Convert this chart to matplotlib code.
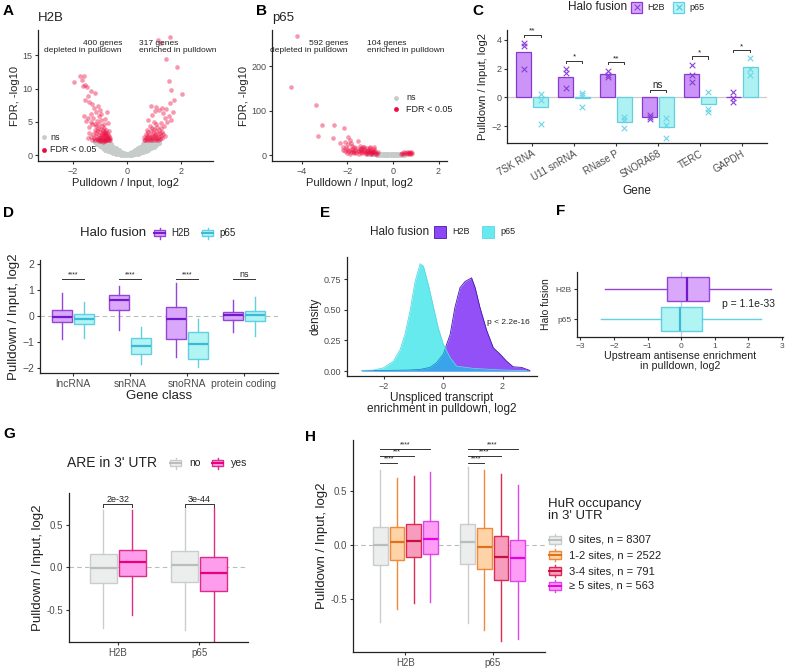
import matplotlib.pyplot as plt
import matplotlib.patches as mpatches

plt.rcParams['font.family'] = ['Liberation Sans', 'DejaVu Sans']

# ---------------- data ----------------
# A: volcano H2B (not significant cloud, significant points)
a_ns_x = [-1.2, -1.2, -1.1, -1.1, -1.1, -1.0, -1.0, -1.0, -1.0, -0.9, -0.9, -0.9, -0.9, -0.9,
          -0.8, -0.8, -0.8, -0.8, -0.8, -0.7, -0.7, -0.7, -0.7, -0.7, -0.6, -0.6, -0.6, -0.6, -0.6,
          -0.5, -0.5, -0.5, -0.5, -0.4, -0.4, -0.4, -0.4, -0.3, -0.3, -0.3, -0.3, -0.2, -0.2, -0.2,
          -0.1, -0.1, -0.1, 0.0, 0.0, 0.1, 0.1, 0.1, 0.2, 0.2, 0.2, 0.3, 0.3, 0.3, 0.3,
          0.4, 0.4, 0.4, 0.4, 0.5, 0.5, 0.5, 0.5, 0.6, 0.6, 0.6, 0.6, 0.6, 0.7, 0.7, 0.7, 0.7, 0.7,
          0.8, 0.8, 0.8, 0.8, 0.8, 0.9, 0.9, 0.9, 0.9, 0.9, 1.0, 1.0, 1.0, 1.0, 1.1, 1.1, 1.1, 1.2, 1.2]
a_ns_y = [2.0, 2.2, 1.6, 1.9, 2.2, 1.3, 1.6, 1.9, 2.2, 1.0, 1.3, 1.6, 1.9, 2.2,
          0.8, 1.1, 1.4, 1.7, 2.0, 0.6, 0.9, 1.2, 1.5, 1.8, 0.4, 0.7, 1.0, 1.3, 1.6,
          0.3, 0.6, 0.9, 1.2, 0.2, 0.5, 0.8, 1.0, 0.1, 0.35, 0.6, 0.8, 0.05, 0.25, 0.45,
          0.02, 0.15, 0.3, 0.0, 0.12, 0.02, 0.15, 0.3, 0.05, 0.25, 0.45, 0.1, 0.35, 0.6, 0.8,
          0.2, 0.5, 0.8, 1.0, 0.3, 0.6, 0.9, 1.2, 0.4, 0.7, 1.0, 1.3, 1.6, 0.6, 0.9, 1.2, 1.5, 1.8,
          0.8, 1.1, 1.4, 1.7, 2.0, 1.0, 1.3, 1.6, 1.9, 2.2, 1.2, 1.5, 1.8, 2.1, 1.5, 1.8, 2.1, 1.8, 2.1]
a_sig_x = [-1.28, -1.25, -1.22, -1.20, -1.18, -1.16, -1.15, -1.13, -1.12, -1.10, -1.08, -1.07,
           -1.05, -1.04, -1.02, -1.00, -0.99, -0.98, -0.97, -0.95, -0.94, -0.93, -0.92, -0.90,
           -0.89, -0.88, -0.87, -0.86, -0.85, -0.84, -0.83, -0.82, -0.81, -0.80, -0.79, -0.78,
           -0.77, -0.76, -0.75, -0.74, -0.72, -0.71, -0.70, -0.68, -0.67, -0.65, -0.63, -0.61,
           -1.35, -1.40, -1.32, -1.45, -1.10, -0.95, -1.20, -0.85, -1.05, -0.90, -1.00, -0.80,
           -1.95, -1.75, -1.60, -1.68, -1.55, -1.48, -1.62, -1.35, -1.20, -1.45, -1.55, -1.40,
           -1.28, -1.22, -1.08, -1.00, -1.15, -0.95, -1.60, -1.45, -1.35, -0.72, -1.05, -1.25,
           -0.80, -1.50, -1.30, -1.40, -0.70, -0.65,
           0.62, 0.65, 0.68, 0.70, 0.72, 0.74, 0.76, 0.78, 0.80, 0.82, 0.84, 0.86, 0.88, 0.90,
           0.92, 0.94, 0.96, 0.98, 1.00, 1.02, 1.04, 1.05, 1.07, 1.08, 1.10, 1.12, 1.13, 1.15,
           1.17, 1.18, 1.20, 1.22, 1.24, 1.26, 1.28, 1.30, 1.32, 1.35, 1.38, 1.40, 0.95, 1.10,
           0.85, 1.25, 0.75,
           1.60, 1.15, 1.25, 1.45, 1.85, 1.55, 2.05, 1.65, 1.75, 1.60, 1.30, 1.10, 1.05, 1.35,
           1.20, 0.95, 1.55, 1.65, 1.40, 0.80, 1.00, 1.50, 0.90, 1.70, 1.45]
a_sig_y = [2.3, 3.1, 2.6, 3.8, 2.2, 4.4, 3.3, 2.8, 2.4, 3.6, 4.1, 2.2,
           3.0, 2.6, 4.7, 3.4, 2.3, 3.9, 2.8, 2.1, 3.2, 4.3, 2.5, 3.7,
           2.9, 2.2, 3.4, 2.6, 4.0, 3.1, 2.3, 2.8, 3.5, 2.1, 2.5, 3.0,
           3.8, 2.3, 2.7, 3.3, 2.2, 2.6, 3.0, 2.4, 2.9, 2.2, 2.6, 2.3,
           2.7, 3.3, 4.9, 2.5, 5.1, 5.3, 4.7, 4.6, 2.1, 2.0, 2.5, 3.3,
           11.0, 11.9, 11.9, 11.3, 10.6, 10.2, 10.4, 9.7, 9.4, 8.8, 8.2, 8.0,
           7.6, 7.1, 7.3, 6.8, 6.5, 6.2, 5.8, 5.5, 6.1, 6.4, 5.9, 5.6,
           5.4, 5.1, 4.6, 4.2, 4.8, 3.6,
           2.3, 2.7, 2.2, 3.1, 2.5, 2.9, 2.2, 3.4, 2.6, 2.3, 3.0, 2.7, 3.6, 2.2,
           2.9, 2.5, 3.3, 2.3, 2.8, 3.9, 2.6, 3.2, 2.2, 3.6, 2.9, 2.5, 4.2, 3.1,
           2.3, 3.7, 2.7, 3.3, 2.4, 4.0, 2.9, 3.5, 2.6, 3.1, 4.4, 2.8, 4.0, 4.6,
           4.3, 4.8, 3.8,
           17.8, 17.3, 16.8, 14.5, 13.3, 11.2, 9.2, 9.8, 8.3, 7.8, 7.0, 7.2, 6.6, 6.3,
           6.7, 6.0, 5.9, 5.3, 5.5, 5.2, 5.0, 4.9, 7.4, 6.5, 6.9]

# B: volcano p65
b_ns_x = [-1.1, -1.0, -0.9, -0.8, -0.7, -0.6, -0.5, -0.4, -0.3, -0.2, -0.1, 0.0, 0.1, 0.2, 0.3, 0.4, 0.5,
          -1.0, -0.9, -0.8, -0.7, -0.6, -0.5, -0.4, -0.3, -0.2, -0.1, 0.0, 0.1, 0.2, 0.3]
b_ns_y = [2, 2, 2, 2, 1, 1, 1, 1, 0.5, 0.5, 0.5, 0.3, 0.5, 0.5, 1, 1, 1,
          4, 4, 3, 3, 3, 2.5, 2.5, 2, 2, 1.5, 1.5, 1.5, 2, 2]
b_sig_x = [-2.2, -2.1, -2.0, -1.95, -1.9, -1.85, -1.8, -1.75, -1.7, -1.65, -1.6, -1.55, -1.5, -1.45,
           -1.4, -1.38, -1.35, -1.3, -1.28, -1.25, -1.2, -1.18, -1.15, -1.12, -1.1, -1.08, -1.05,
           -1.02, -1.0, -0.98, -0.95, -0.92, -0.9, -0.88, -0.85, -0.83, -0.8, -0.78, -0.75, -1.6,
           -1.3, -1.7, -2.0, -1.9, -1.5, -1.2, -0.95, -0.7, -0.65, -1.4,
           0.35, 0.4, 0.45, 0.5, 0.55, 0.6, 0.62, 0.65, 0.7, 0.72, 0.75, 0.78, 0.8, 0.82,
           -4.19, -4.48, -3.38, -3.11, -2.58, -3.28, -2.64, -2.15, -1.99, -1.89, -1.55, -2.06,
           -2.3, -1.95, -1.8, -2.1, -1.7, -1.85, -2.2, -1.45, -1.25, -1.0, -0.85]
b_sig_y = [12, 9, 14, 8, 11, 6, 13, 9, 7, 12, 5, 10, 8, 14,
           6, 11, 4, 9, 13, 7, 5, 10, 16, 8, 4, 12, 6,
           9, 15, 5, 11, 7, 4, 9, 13, 6, 3, 8, 5, 16,
           17, 4, 5, 3, 3, 2, 2, 3, 6, 15,
           3, 5, 2, 6, 4, 7, 3, 5, 6, 2, 4, 7, 3, 5,
           269, 154, 113, 68, 68, 43, 38, 60, 41, 34, 32, 19,
           28, 24, 21, 30, 19, 27, 17, 20, 19, 18, 19]

# C: RT-qPCR bars with replicates
c_genes = ['7SK RNA', 'U11 snRNA', 'RNase P', 'SNORA68', 'TERC', 'GAPDH']
c_h2b_bar = [3.14, 1.45, 1.63, -1.35, 1.60, 0.01]
c_p65_bar = [-0.64, -0.05, -1.75, -2.08, -0.47, 2.09]
c_h2b_reps = [[3.8, 3.55, 1.95], [2.0, 1.7, 0.65], [1.86, 1.58, 1.45],
              [-1.2, -1.35, -1.48], [2.25, 1.55, 1.05], [0.4, -0.07, -0.3]]
c_p65_reps = [[0.22, -0.22, -1.87], [0.33, 0.16, -0.64], [-1.36, -1.6, -2.15],
              [-1.47, -1.93, -2.82], [0.4, -0.78, -1.0], [2.76, 1.95, 1.56]]
c_sig = ['**', '*', '**', 'ns', '*', '*']
c_sig_y = [4.35, 2.55, 2.45, 0.5, 2.85, 3.3]

# D: gene class boxplots
d_classes = ['lncRNA', 'snRNA', 'snoRNA', 'protein coding']
d_h2b_whislo = [-0.89, -0.53, -1.59, -0.63]
d_h2b_q1 = [-0.23, 0.22, -0.89, -0.15]
d_h2b_med = [-0.04, 0.63, -0.10, 0.04]
d_h2b_q3 = [0.22, 0.80, 0.35, 0.15]
d_h2b_whishi = [0.89, 1.15, 1.28, 0.63]
d_p65_whislo = [-0.85, -1.86, -1.95, -0.75]
d_p65_q1 = [-0.31, -1.47, -1.66, -0.19]
d_p65_med = [-0.12, -1.15, -1.07, 0.03]
d_p65_q3 = [0.06, -0.86, -0.62, 0.19]
d_p65_whishi = [0.54, -0.43, -0.10, 0.74]
d_sig = ['****', '****', '****', 'ns']

# E: density of unspliced transcript enrichment
e_x_p65 = [-2.73, -2.34, -2.0, -1.67, -1.44, -1.28, -1.11, -0.94, -0.77, -0.66, -0.49,
           -0.32, -0.16, 0.01, 0.24, 0.46, 1.02, 1.58, 2.14, 2.81]
e_d_p65 = [0.005, 0.008, 0.027, 0.08, 0.177, 0.30, 0.49, 0.73, 0.875, 0.855, 0.70,
           0.52, 0.35, 0.22, 0.11, 0.04, 0.022, 0.014, 0.008, 0.003]
e_x_h2b = [-2.73, -2.0, -1.22, -0.77, -0.44, -0.21, 0.01, 0.24, 0.40, 0.57, 0.74, 0.96,
           1.08, 1.24, 1.47, 1.69, 1.91, 2.14, 2.36, 2.64, 2.92]
e_d_h2b = [0.003, 0.005, 0.008, 0.014, 0.03, 0.07, 0.14, 0.30, 0.52, 0.68, 0.73, 0.76,
           0.68, 0.52, 0.33, 0.19, 0.14, 0.08, 0.035, 0.03, 0.005]

# F: upstream antisense (p65 bottom, H2B top)
f_groups = ['p65', 'H2B']
f_whislo = [-2.38, -2.26]
f_q1 = [-0.61, -0.43]
f_med = [-0.04, 0.18]
f_q3 = [0.62, 0.82]
f_whishi = [2.39, 2.67]

# G: ARE in 3' UTR
g_groups = ['H2B', 'p65']
g_no_whislo = [-0.71, -0.74]
g_no_q1 = [-0.19, -0.18]
g_no_med = [-0.005, 0.02]
g_no_q3 = [0.15, 0.19]
g_no_whishi = [0.67, 0.71]
g_yes_whislo = [-0.56, -1.0]
g_yes_q1 = [-0.10, -0.28]
g_yes_med = [0.055, -0.07]
g_yes_q3 = [0.20, 0.12]
g_yes_whishi = [0.67, 0.69]
g_p = ['2e-32', '3e-44']

# H: HuR occupancy
h_cats = ['0 sites, n = 8307', '1-2 sites, n = 2522', '3-4 sites, n = 791', '\u2265 5 sites, n = 563']
h_h2b_whislo = [-0.71, -0.59, -0.54, -0.53]
h_h2b_q1 = [-0.187, -0.135, -0.11, -0.086]
h_h2b_med = [0.0, 0.025, 0.037, 0.058]
h_h2b_q3 = [0.166, 0.166, 0.19, 0.224]
h_h2b_whishi = [0.69, 0.62, 0.64, 0.67]
h_p65_whislo = [-0.72, -0.785, -0.89, -0.87]
h_p65_q1 = [-0.175, -0.227, -0.32, -0.33]
h_p65_med = [0.025, -0.018, -0.11, -0.123]
h_p65_q3 = [0.196, 0.156, 0.083, 0.049]
h_p65_whishi = [0.72, 0.69, 0.66, 0.55]
h_sig_h2b = ['****', '***', '****']
h_sig_p65 = ['****', '****', '****']

# ---------------- styling ----------------
H2B_FILL, H2B_EDGE, H2B_MED = '#d9a8fb', '#9444d6', '#7418cc'
P65_FILL, P65_EDGE, P65_MED = '#b0f4f4', '#62cfe2', '#3cb9d4'
GREY_FILL, GREY_EDGE, GREY_MED = '#eceeed', '#c9cdcb', '#b9bdbb'
h_fill = [GREY_FILL, '#ffd3a8', '#f79cbd', '#ff9cf5']
h_edge = [GREY_EDGE, '#ee8a3a', '#dc2c55', '#e045ec']
h_medc = [GREY_MED, '#e0701a', '#c81040', '#e600e6']
YES_FILL, YES_EDGE, YES_MED = '#ff9ded', '#dc2c85', '#e8007a'
NS_COL, SIG_COL = '#c6ccca', '#ec0b3e'
E_H2B, E_P65 = '#8c46f6', '#00dde2'
TXT = '#222222'

W, H = 786, 671
fig = plt.figure(figsize=(W / 100, H / 100), dpi=100)


def px_axes(l, t, r, b):
    return fig.add_axes([l / W, 1 - b / H, (r - l) / W, (b - t) / H])


def classic(ax, ls=6.5):
    for s in ['top', 'right']:
        ax.spines[s].set_visible(False)
    for s in ['left', 'bottom']:
        ax.spines[s].set_linewidth(0.9)
        ax.spines[s].set_color('#222222')
    ax.tick_params(labelsize=ls, length=2.5, width=0.8, color='#333333',
                   labelcolor='#4d4d4d', pad=1.5)


def boxes(ax, pos, lo, q1, med, q3, hi, width, fill, edge, medc, lw=1.0, horiz=False):
    stats = [dict(whislo=a, q1=b, med=c, q3=d, whishi=e, fliers=[])
             for a, b, c, d, e in zip(lo, q1, med, q3, hi)]
    ax.bxp(stats, positions=pos, widths=width, patch_artist=True, showcaps=False,
           orientation='horizontal' if horiz else 'vertical',
           boxprops=dict(facecolor=fill, edgecolor=edge, linewidth=lw),
           whiskerprops=dict(color=edge, linewidth=lw),
           medianprops=dict(color=medc, linewidth=lw * 1.6), manage_ticks=False)


def bracket(ax, x1, x2, y, label, tick, fs=5.5, col='#333333', dy=0.0):
    ax.plot([x1, x1, x2, x2], [y - tick, y, y, y - tick], color=col, lw=0.7, clip_on=False)
    ax.text((x1 + x2) / 2, y + dy, label, ha='center', va='bottom', fontsize=fs, color=TXT)


# overlay in pixel coordinates for panel letters and legends
ov = fig.add_axes([0, 0, 1, 1], zorder=10)
ov.set_xlim(0, W)
ov.set_ylim(H, 0)
ov.axis('off')
ov.patch.set_alpha(0)

for lab, x, y in [('A', 3, 4), ('B', 256, 4), ('C', 472, 4), ('D', 3, 206),
                  ('E', 320, 206), ('F', 556, 204), ('G', 3, 427), ('H', 305, 430)]:
    ov.text(x, y, lab, fontsize=11, fontweight='bold', va='top', ha='left')


def key_box(x, y, fill, edge, medc, s=11):
    ov.add_patch(mpatches.Rectangle((x, y - s * 0.3), s, s * 0.6, facecolor=fill,
                                    edgecolor=edge, lw=1))
    ov.plot([x, x + s], [y, y], color=medc, lw=1.4)
    ov.plot([x + s / 2, x + s / 2], [y - s / 2, y - s * 0.3], color=edge, lw=1)
    ov.plot([x + s / 2, x + s / 2], [y + s * 0.3, y + s / 2], color=edge, lw=1)


# ---------------- A ----------------
axA = px_axes(38, 30, 213, 161)
axA.scatter(a_ns_x, a_ns_y, s=13, c=NS_COL, lw=0, zorder=1)
axA.scatter(a_sig_x, a_sig_y, s=11, c=SIG_COL, alpha=0.42, lw=0, zorder=2)
axA.set_xlim(-3.3, 3.2)
axA.set_ylim(-0.9, 18.8)
axA.set_xticks([-2, 0, 2])
axA.set_yticks([0, 5, 10, 15])
classic(axA)
axA.set_xlabel('Pulldown / Input, log2', fontsize=8, labelpad=2, color=TXT)
axA.set_ylabel('FDR, -log10', fontsize=8, labelpad=2, color=TXT)
ov.text(38, 18, 'H2B', fontsize=9.5, va='center', ha='left', color=TXT)
ov.text(122, 47, '400 genes\ndepleted in pulldown', fontsize=6, ha='right', va='center',
        ma='right', linespacing=1.05, color=TXT)
ov.text(139, 47, '317 genes\nenriched in pulldown', fontsize=6, ha='left', va='center',
        ma='left', linespacing=1.05, color=TXT)
ov.scatter([44], [137], s=12, c=NS_COL, lw=0)
ov.scatter([44], [150], s=12, c=SIG_COL, lw=0)
ov.text(50, 137, 'ns', fontsize=6.5, va='center', color=TXT)
ov.text(50, 150, 'FDR < 0.05', fontsize=6.5, va='center', color=TXT)

# ---------------- B ----------------
axB = px_axes(272, 30, 447, 161)
axB.scatter(b_ns_x, b_ns_y, s=13, c=NS_COL, lw=0, zorder=1)
axB.scatter(b_sig_x, b_sig_y, s=11, c=SIG_COL, alpha=0.42, lw=0, zorder=2)
axB.set_xlim(-5.3, 2.37)
axB.set_ylim(-13.5, 282)
axB.set_xticks([-4, -2, 0, 2])
axB.set_yticks([0, 100, 200])
classic(axB)
axB.set_xlabel('Pulldown / Input, log2', fontsize=8, labelpad=2, color=TXT)
axB.set_ylabel('FDR, -log10', fontsize=8, labelpad=2, color=TXT)
ov.text(272, 18, 'p65', fontsize=9.5, va='center', ha='left', color=TXT)
ov.text(348, 47, '592 genes\ndepleted in pulldown', fontsize=6, ha='right', va='center',
        ma='right', linespacing=1.05, color=TXT)
ov.text(367, 47, '104 genes\nenriched in pulldown', fontsize=6, ha='left', va='center',
        ma='left', linespacing=1.05, color=TXT)
ov.scatter([396], [98], s=12, c=NS_COL, lw=0)
ov.scatter([396], [109], s=12, c=SIG_COL, lw=0)
ov.text(406, 98, 'ns', fontsize=6.5, va='center', color=TXT)
ov.text(406, 109, 'FDR < 0.05', fontsize=6.5, va='center', color=TXT)

# ---------------- C ----------------
axC = px_axes(507, 30, 767, 143)
cx = list(range(1, len(c_genes) + 1))
off, bw = 0.2, 0.36
axC.axhline(0, color='#cccccc', lw=0.9, zorder=0)
axC.bar([x - off for x in cx], c_h2b_bar, width=bw, color='#cb94f6', edgecolor='#8a38d2', lw=0.9)
axC.bar([x + off for x in cx], c_p65_bar, width=bw, color='#adf1f2', edgecolor='#62d0e2', lw=0.9)
for i, x in enumerate(cx):
    axC.scatter([x - off] * 3, c_h2b_reps[i], marker='x', s=16, c='#8a3fd6', lw=0.8, zorder=3)
    axC.scatter([x + off] * 3, c_p65_reps[i], marker='x', s=16, c='#6ad6e8', lw=0.8, zorder=3)
    bracket(axC, x - off, x + off, c_sig_y[i], c_sig[i], 0.15,
            fs=7 if c_sig[i] == 'ns' else 6)
axC.set_xlim(0.4, 6.6)
axC.set_ylim(-3.18, 4.69)
axC.set_yticks([-2, 0, 2, 4])
axC.set_xticks(cx)
axC.set_xticklabels(c_genes, rotation=30, ha='right', rotation_mode='anchor')
classic(axC)
axC.tick_params(axis='x', labelsize=7)
axC.set_xlabel('Gene', fontsize=8.5, labelpad=2, color=TXT)
axC.set_ylabel('Pulldown / Input, log2', fontsize=8, labelpad=2, color=TXT)
ov.text(568, 7, 'Halo fusion', fontsize=8.5, va='center', color=TXT)
for kx, lab, fc, ec, mc in [(631, 'H2B', '#d7a6fb', '#8a38d2', '#8a3fd6'),
                            (673, 'p65', '#b8f5f5', '#62d0e2', '#4cc8e0')]:
    ov.add_patch(mpatches.Rectangle((kx, 1.5), 11, 11, facecolor=fc, edgecolor=ec, lw=0.9))
    ov.scatter([kx + 5.5], [7], marker='x', s=18, c=mc, lw=0.8)
    ov.text(kx + 16, 7, lab, fontsize=6.5, va='center', color=TXT)

# ---------------- D ----------------
axD = px_axes(40, 260, 278, 373)
dx = list(range(1, 5))
axD.axhline(0, color='#bbbbbb', lw=0.8, ls=(0, (4, 3)), zorder=0)
boxes(axD, [x - 0.19 for x in dx], d_h2b_whislo, d_h2b_q1, d_h2b_med, d_h2b_q3, d_h2b_whishi,
      0.35, H2B_FILL, H2B_EDGE, H2B_MED)
boxes(axD, [x + 0.19 for x in dx], d_p65_whislo, d_p65_q1, d_p65_med, d_p65_q3, d_p65_whishi,
      0.35, P65_FILL, P65_EDGE, P65_MED)
for x, s in zip(dx, d_sig):
    bracket(axD, x - 0.19, x + 0.19, 1.41, s, 0.0, fs=6.5 if s == 'ns' else 5, dy=0.02)
axD.set_xlim(0.42, 4.6)
axD.set_ylim(-2.19, 2.15)
axD.set_xticks(dx)
axD.set_xticklabels(d_classes)
axD.set_yticks([-2, -1, 0, 1, 2])
classic(axD, ls=7.5)
axD.set_xlabel('Gene class', fontsize=9.5, labelpad=1, color=TXT)
axD.set_ylabel('Pulldown / Input, log2', fontsize=9.5, labelpad=2, color=TXT)
ov.text(80, 233, 'Halo fusion', fontsize=9.5, va='center', color=TXT)
key_box(154, 233, H2B_FILL, H2B_EDGE, H2B_MED)
ov.text(171, 233, 'H2B', fontsize=7, va='center', color=TXT)
key_box(202, 233, P65_FILL, P65_EDGE, P65_MED)
ov.text(219, 233, 'p65', fontsize=7, va='center', color=TXT)

# ---------------- E ----------------
axE = px_axes(347, 257, 537, 376)
axE.fill_between(e_x_h2b, e_d_h2b, color=E_H2B, alpha=0.95, lw=0, zorder=1)
axE.plot(e_x_h2b, e_d_h2b, color='#3d1aa8', lw=0.6, zorder=2)
axE.fill_between(e_x_p65, e_d_p65, color=E_P65, alpha=0.6, lw=0, zorder=3)
axE.plot(e_x_p65, e_d_p65, color='#5ad8e6', lw=0.6, zorder=4)
axE.text(1.48, 0.40, 'p < 2.2e-16', fontsize=6, va='center', ha='left', color=TXT)
axE.set_xlim(-3.23, 3.16)
axE.set_ylim(-0.04, 0.93)
axE.set_xticks([-2, 0, 2])
axE.set_yticks([0, 0.25, 0.5, 0.75])
axE.set_yticklabels(['0.00', '0.25', '0.50', '0.75'])
classic(axE)
axE.set_xlabel('Unspliced transcript\nenrichment in pulldown, log2', fontsize=8.5,
               labelpad=1, linespacing=0.95, color=TXT)
axE.set_ylabel('density', fontsize=8.5, labelpad=2, color=TXT)
ov.text(370, 232, 'Halo fusion', fontsize=8.5, va='center', color=TXT)
ov.add_patch(mpatches.Rectangle((434, 226), 12, 12, facecolor=E_H2B, edgecolor='#3d1aa8', lw=0.6))
ov.text(452, 232, 'H2B', fontsize=6.5, va='center', color=TXT)
ov.add_patch(mpatches.Rectangle((482, 226), 12, 12, facecolor='#66eaee', edgecolor='#5ad8e6', lw=0.6))
ov.text(500, 232, 'p65', fontsize=6.5, va='center', color=TXT)

# ---------------- F ----------------
axF = px_axes(577, 272, 783, 337)
axF.axvline(0, color='#c8c0e8', lw=0.9, zorder=0)
fy = [1, 2]
boxes(axF, [fy[0]], [f_whislo[0]], [f_q1[0]], [f_med[0]], [f_q3[0]], [f_whishi[0]], 0.78,
      P65_FILL, P65_EDGE, P65_MED, horiz=True)
boxes(axF, [fy[1]], [f_whislo[1]], [f_q1[1]], [f_med[1]], [f_q3[1]], [f_whishi[1]], 0.78,
      H2B_FILL, H2B_EDGE, H2B_MED, horiz=True)
axF.text(1.22, 1.5, 'p = 1.1e-33', fontsize=7.5, ha='left', va='center', color=TXT)
axF.set_xlim(-3.1, 3.03)
axF.set_ylim(0.4, 2.57)
axF.set_xticks([-3, -2, -1, 0, 1, 2, 3])
axF.set_yticks(fy)
axF.set_yticklabels(f_groups)
classic(axF, ls=6)
axF.set_xlabel('Upstream antisense enrichment\nin pulldown, log2', fontsize=7.7,
               labelpad=1, linespacing=0.95, color=TXT)
axF.set_ylabel('Halo fusion', fontsize=7.5, labelpad=3, color=TXT)

# ---------------- G ----------------
axG = px_axes(69, 493, 248, 642)
gx = [1, 2]
axG.axhline(0, color='#bbbbbb', lw=0.8, ls=(0, (4, 3)), zorder=0)
boxes(axG, [x - 0.18 for x in gx], g_no_whislo, g_no_q1, g_no_med, g_no_q3, g_no_whishi,
      0.33, GREY_FILL, GREY_EDGE, GREY_MED)
boxes(axG, [x + 0.18 for x in gx], g_yes_whislo, g_yes_q1, g_yes_med, g_yes_q3, g_yes_whishi,
      0.33, YES_FILL, YES_EDGE, YES_MED)
for x, p in zip(gx, g_p):
    bracket(axG, x - 0.18, x + 0.18, 0.74, p, 0.04, fs=6.5, dy=0.0)
axG.set_xlim(0.4, 2.6)
axG.set_ylim(-0.88, 0.87)
axG.set_xticks(gx)
axG.set_xticklabels(g_groups)
axG.set_yticks([-0.5, 0, 0.5])
axG.set_yticklabels(['-0.5', '0.0', '0.5'])
classic(axG, ls=7)
axG.set_ylabel('Pulldown / Input, log2', fontsize=9.5, labelpad=2, color=TXT)
ov.text(67, 463, "ARE in 3' UTR", fontsize=10, va='center', color=TXT)
key_box(170, 463, GREY_FILL, GREY_EDGE, GREY_MED)
ov.text(189, 463, 'no', fontsize=7.5, va='center', color=TXT)
key_box(212, 463, YES_FILL, YES_EDGE, YES_MED)
ov.text(231, 463, 'yes', fontsize=7.5, va='center', color=TXT)

# ---------------- H ----------------
axH = px_axes(353, 440, 545, 652)
hx = [1, 2]
h_off = [-0.285, -0.095, 0.095, 0.285]
axH.axhline(0, color='#bbbbbb', lw=0.8, ls=(0, (4, 3)), zorder=0)
for k in range(4):
    boxes(axH, [x + h_off[k] for x in hx],
          [h_h2b_whislo[k], h_p65_whislo[k]], [h_h2b_q1[k], h_p65_q1[k]],
          [h_h2b_med[k], h_p65_med[k]], [h_h2b_q3[k], h_p65_q3[k]],
          [h_h2b_whishi[k], h_p65_whishi[k]], 0.17, h_fill[k], h_edge[k], h_medc[k])
for x, sigs in zip(hx, [h_sig_h2b, h_sig_p65]):
    for k, (s, y) in enumerate(zip(sigs, [0.755, 0.82, 0.885])):
        axH.plot([x + h_off[0], x + h_off[k + 1]], [y, y], color='#333333', lw=0.7)
        axH.text((x + h_off[0] + x + h_off[k + 1]) / 2, y + 0.005, s, fontsize=5,
                 ha='center', va='bottom', color=TXT)
axH.set_xlim(0.4, 2.6)
axH.set_ylim(-0.99, 0.97)
axH.set_xticks(hx)
axH.set_xticklabels(g_groups)
axH.set_yticks([-0.5, 0, 0.5])
axH.set_yticklabels(['-0.5', '0.0', '0.5'])
classic(axH, ls=7)
axH.set_ylabel('Pulldown / Input, log2', fontsize=9.5, labelpad=2, color=TXT)
ov.text(548, 510, 'HuR occupancy\nin 3\' UTR', fontsize=9.5, va='center', ha='left',
        linespacing=1.1, color=TXT)
for k, yk in enumerate([540, 555, 571, 586]):
    key_box(549, yk, h_fill[k], h_edge[k], h_medc[k], s=12)
    ov.text(569, yk, h_cats[k], fontsize=8, va='center', color=TXT)

fig.savefig('out.png', dpi=100)
